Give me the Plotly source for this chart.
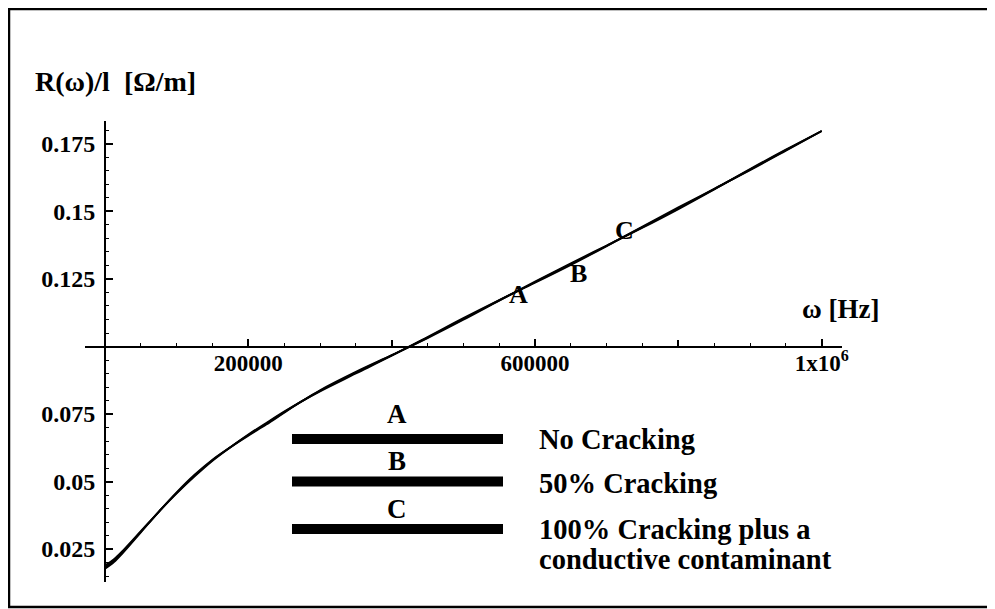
import plotly.graph_objects as go

# ---- data ----
omega = [0, 12500, 25000, 50000, 75000, 100000, 125000, 150000, 175000, 200000,
         225000, 250000, 275000, 300000, 350000, 400000, 450000, 500000, 550000,
         600000, 650000, 700000, 750000, 800000, 850000, 900000, 950000, 1000000]
r_a = [0.0183, 0.0207, 0.0240, 0.0314, 0.0388, 0.0458, 0.0522, 0.0579, 0.0627, 0.0672,
       0.0714, 0.0757, 0.0798, 0.0836, 0.0903, 0.0967, 0.1033, 0.1102, 0.1171,
       0.1238, 0.1305, 0.1373, 0.1442, 0.1512, 0.1583, 0.1655, 0.1727, 0.1798]
r_b = [0.0189, 0.0212, 0.0244, 0.0316, 0.0388, 0.0456, 0.0519, 0.0577, 0.0627, 0.0674,
       0.0717, 0.0759, 0.0798, 0.0834, 0.0900, 0.0966, 0.1035, 0.1105, 0.1172,
       0.1236, 0.1302, 0.1372, 0.1444, 0.1515, 0.1584, 0.1653, 0.1725, 0.1798]
r_c = [0.0177, 0.0202, 0.0236, 0.0312, 0.0388, 0.0460, 0.0525, 0.0581, 0.0627, 0.0670,
       0.0711, 0.0755, 0.0798, 0.0838, 0.0906, 0.0968, 0.1031, 0.1099, 0.1170,
       0.1240, 0.1308, 0.1374, 0.1440, 0.1509, 0.1582, 0.1657, 0.1729, 0.1798]

x_tickvals = [200000, 600000, 1000000]
x_ticktext = ["200000", "600000", "1x10<sup>6</sup>"]
x_unlabeled_ticks = [400000, 800000]
y_tickvals = [0.025, 0.05, 0.075, 0.125, 0.15, 0.175]
y_ticktext = ["0.025", "0.05", "0.075", "0.125", "0.15", "0.175"]

curve_labels = ["A", "B", "C"]
curve_label_x = [577000, 661000, 725000]
curve_label_y = [0.1194, 0.1269, 0.1428]
legend_texts = ["No Cracking", "50% Cracking", "100% Cracking plus a", "conductive contaminant"]

x_range = [-27900, 1028300]
y_range = [0.0128, 0.1835]
x_cross = 0.0
y_cross = 0.1

fig = go.Figure()
for ys in (r_a, r_b, r_c):
    fig.add_trace(go.Scatter(x=omega, y=ys, mode="lines",
                             line=dict(color="black", width=1.9, shape="spline",
                                       smoothing=1.0),
                             showlegend=False, hoverinfo="skip"))
# carrier trace so the overlay axis holding the unlabeled major ticks is drawn
fig.add_trace(go.Scatter(x=omega[:1], y=r_a[:1], xaxis="x2", mode="lines",
                         line=dict(width=0), showlegend=False, hoverinfo="skip"))

# curve labels
for t, xv, yv in zip(curve_labels, curve_label_x, curve_label_y):
    fig.add_annotation(x=xv, y=yv, text=t, showarrow=False, xref="x", yref="y",
                       yanchor="middle", font=dict(size=26))

# ---- layout: page pixels -> paper (page body has an 8px margin) ----
OFF = 8
PAGE_W, PAGE_H = 995, 609
W, H = PAGE_W - OFF, PAGE_H - OFF
plot_left, plot_right, plot_top, plot_bottom = 85, 842, 121, 582
L, R = plot_left - OFF, PAGE_W - plot_right
T, B = plot_top - OFF, PAGE_H - plot_bottom
pw, ph = W - L - R, H - T - B
def px(xp): return (xp - plot_left) / pw
def py(yp): return (plot_bottom - yp) / ph

# legend bars
bar_x0, bar_x1 = 292, 503
bar_centers = [439, 481.5, 529]
letter_y = [414, 461, 509]
for t, yc, ly in zip(curve_labels, bar_centers, letter_y):
    fig.add_shape(type="rect", xref="paper", yref="paper",
                  x0=px(bar_x0), x1=px(bar_x1), y0=py(yc + 5), y1=py(yc - 5),
                  fillcolor="black", line=dict(width=0))
    fig.add_annotation(x=px(397), y=py(ly), xref="paper", yref="paper", text=t,
                       showarrow=False, xanchor="center", yanchor="middle",
                       font=dict(size=27))

text_y = [440, 483, 529, 559]
for t, ty in zip(legend_texts, text_y):
    fig.add_annotation(x=px(537), y=py(ty), xref="paper", yref="paper", text=t,
                       showarrow=False, xanchor="left", yanchor="middle",
                       font=dict(size=28.5))

# axis titles
fig.add_annotation(x=px(33), y=py(81), xref="paper", yref="paper",
                   text="R(ω)/l  [Ω/m]", showarrow=False, xanchor="left",
                   yanchor="middle", font=dict(size=28))
fig.add_annotation(x=px(800), y=py(309), xref="paper", yref="paper",
                   text="ω [Hz]", showarrow=False, xanchor="left",
                   yanchor="middle", font=dict(size=27))

# outer frame
fig.add_shape(type="rect", xref="paper", yref="paper",
              x0=px(OFF + 1), x1=px(1010), y0=py(607), y1=py(OFF + 1),
              line=dict(color="black", width=2.5), fillcolor="rgba(0,0,0,0)")

xpos = (y_cross - y_range[0]) / (y_range[1] - y_range[0])
ypos = (x_cross - x_range[0]) / (x_range[1] - x_range[0])

fig.update_layout(
    width=W, height=H,
    margin=dict(l=L, r=R, t=T, b=B, pad=0),
    paper_bgcolor="white", plot_bgcolor="white",
    font=dict(family="Liberation Serif", size=23, color="black", weight="bold"),
    showlegend=False,
    xaxis=dict(range=x_range, anchor="free", position=xpos,
               showline=True, linecolor="black", linewidth=2,
               showgrid=False, zeroline=False,
               tickmode="array", tickvals=x_tickvals, ticktext=x_ticktext,
               ticks="inside", ticklen=7, tickwidth=1.5, tickcolor="black",
               ticklabelstandoff=-4,
               minor=dict(tickmode="linear", tick0=0, dtick=50000, ticks="inside",
                          ticklen=3, tickwidth=1.2, tickcolor="black"),
               tickfont=dict(size=23)),
    xaxis2=dict(range=x_range, matches="x", overlaying="x", anchor="free",
                position=xpos, side="bottom", showline=False, showgrid=False,
                zeroline=False, tickmode="array", tickvals=x_unlabeled_ticks,
                showticklabels=False, ticks="inside", ticklen=7, tickwidth=1.5,
                tickcolor="black"),
    yaxis=dict(range=y_range, anchor="free", position=ypos,
               showline=True, linecolor="black", linewidth=2,
               showgrid=False, zeroline=False,
               tickmode="array", tickvals=y_tickvals, ticktext=y_ticktext,
               ticks="inside", ticklen=7, tickwidth=1.5, tickcolor="black",
               ticklabelstandoff=4,
               minor=dict(tickmode="linear", tick0=0, dtick=0.005, ticks="inside",
                          ticklen=3.5, tickwidth=1.2, tickcolor="black"),
               tickfont=dict(size=24)),
)

fig.write_html("out.html")
